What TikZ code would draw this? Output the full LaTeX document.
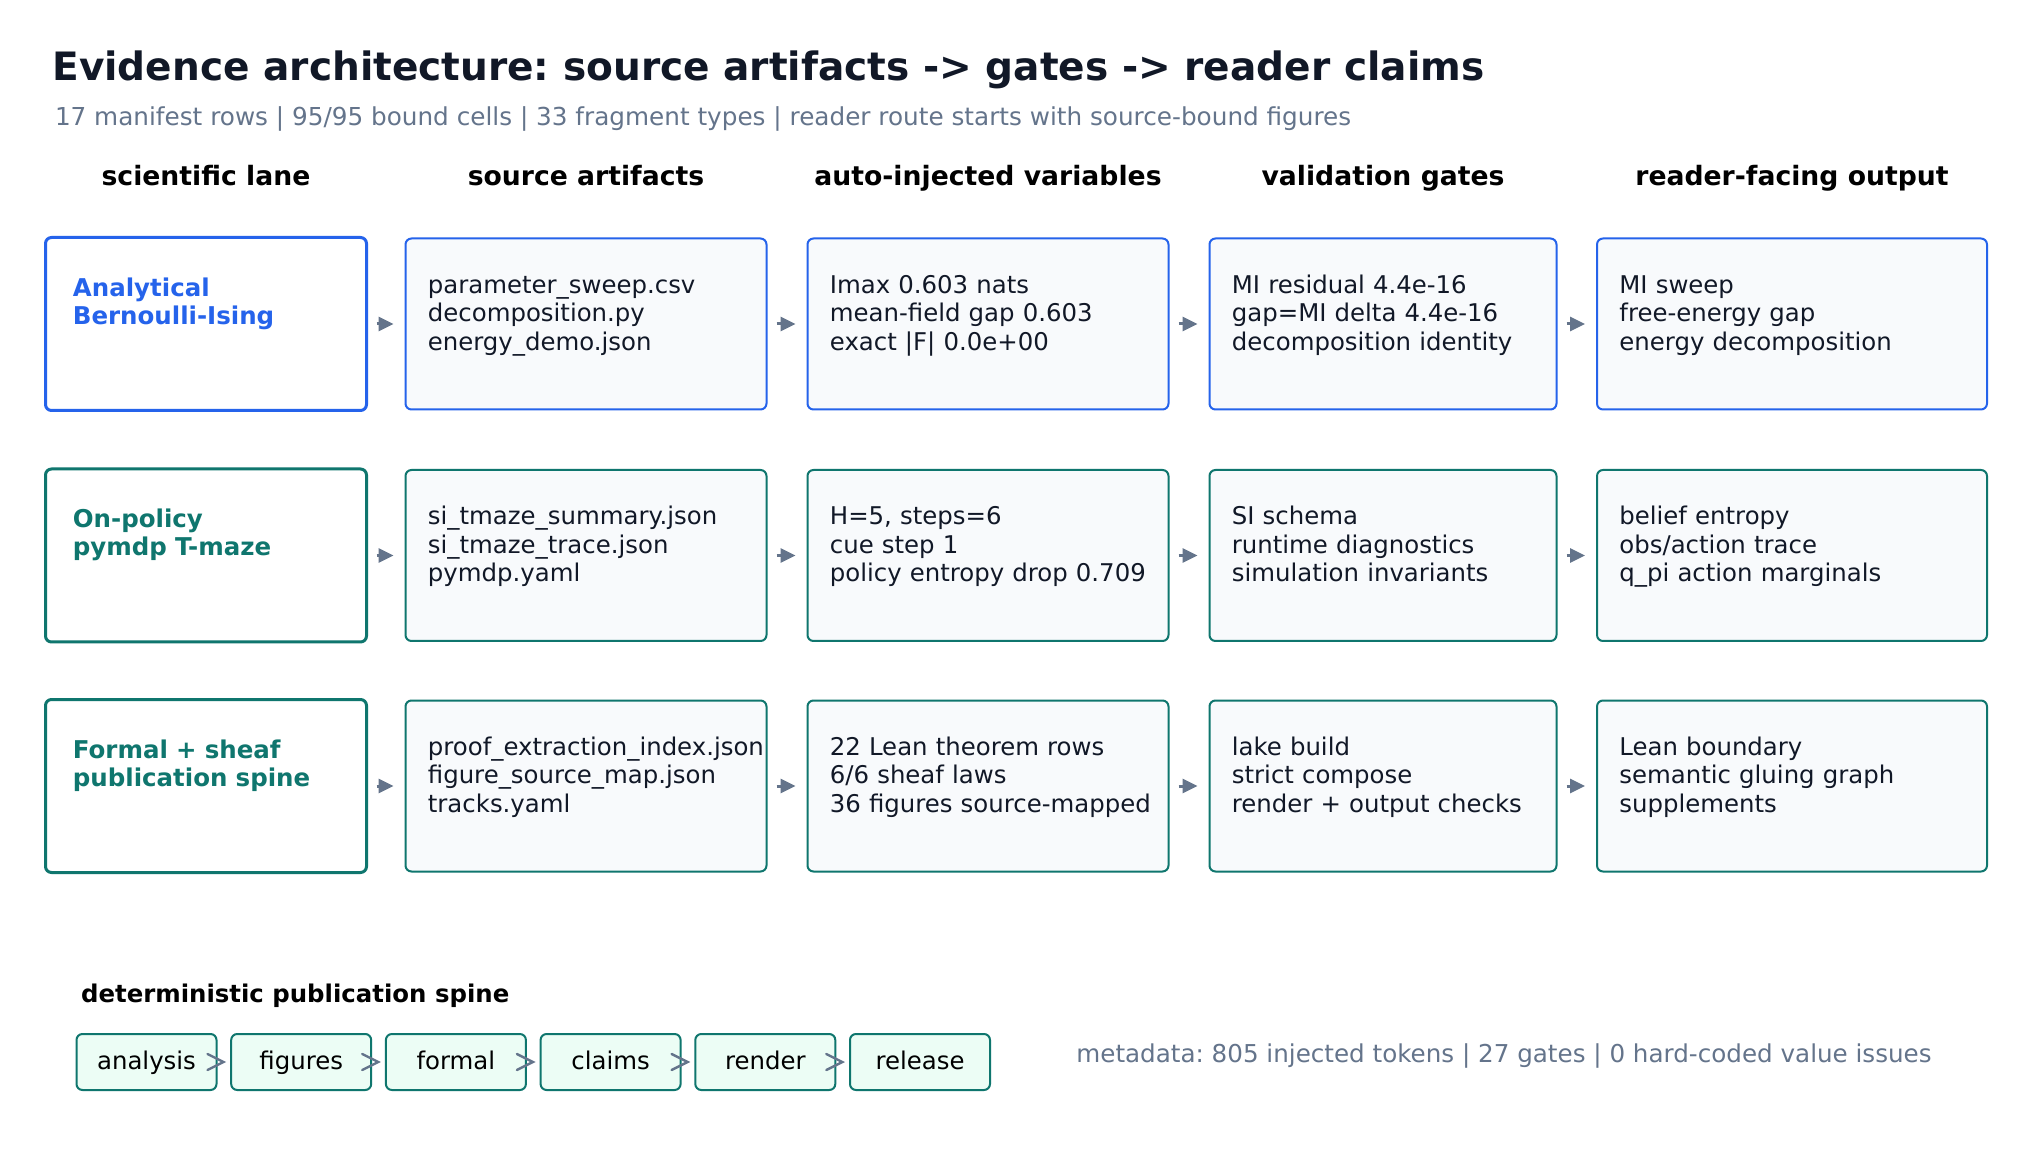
\documentclass[tikz,border=0pt]{standalone}
\usepackage{fontspec}
\setmainfont{DejaVu Sans}
\usetikzlibrary{arrows.meta,calc}
\definecolor{ink}{HTML}{111827}
\definecolor{slate}{HTML}{64748B}
\definecolor{blueL}{HTML}{2563EB}
\definecolor{tealL}{HTML}{0F766E}
\definecolor{boxfill}{HTML}{F8FAFC}
\definecolor{mint}{HTML}{ECFDF5}
\frenchspacing
\begin{document}
\frenchspacing
\begin{tikzpicture}[x=0.5pt,y=-0.5pt,
  lanebox/.style={draw=#1, line width=1.5pt, fill=white, rounded corners=3pt,
    minimum width=160.5pt, minimum height=86.5pt, inner sep=0pt, outer sep=0pt},
  databox/.style={draw=#1, line width=1pt, fill=boxfill, rounded corners=3pt,
    minimum height=85.5pt, inner sep=0pt, outer sep=0pt},
  lanetext/.style={text=#1, font=\bfseries\fontsize{12.24pt}{14pt}\selectfont,
    align=left, text width=150pt, inner sep=0pt, anchor=base west},
  bodytext/.style={text=ink, font=\fontsize{12.2pt}{14.2pt}\selectfont,
    align=left, text width=195pt, inner sep=0pt, anchor=base west},
  header/.style={font=\bfseries\fontsize{13.33pt}{15pt}\selectfont, inner sep=0pt, anchor=base},
  flow/.style={-{Triangle[length=7.5pt,width=7pt]}, line width=1.5pt, draw=slate,
    shorten <=5pt, shorten >=6pt},
  pill/.style={draw=tealL, fill=mint, line width=1pt, rounded corners=3pt,
    minimum width=70pt, minimum height=28pt, inner sep=0pt, outer sep=0pt,
    text height=9pt, text depth=2pt, font=\fontsize{12.2pt}{14pt}\selectfont},
  chev/.style={draw=slate, line width=1.2pt, line cap=round, line join=miter},
]
\useasboundingbox (0,0) rectangle (2040,1165);
\fill[white] (0,0) rectangle (2040,1165);

% title
\node[anchor=base west, inner sep=0pt, text=ink, font=\bfseries\fontsize{19.53pt}{23pt}\selectfont] (title) at (52,81)
  {Evidence architecture: source artifacts -> gates -> reader claims};
\node[anchor=base west, inner sep=0pt, text=slate, font=\fontsize{12.35pt}{14pt}\selectfont] (subtitle) at (54.6,126)
  {17 manifest rows | 95/95 bound cells | 33 fragment types | reader route starts with source-bound figures};

% headers
\node[header] (h1) at (206,185.7) {scientific lane};
\node[header] (h2) at (586,185.7) {source artifacts};
\node[header] (h3) at (988,185.7) {auto-injected variables};
\node[header] (h4) at (1383,185.7) {validation gates};
\node[header] (h5) at (1792,185.7) {reader-facing output};

% row 1
\node[lanebox=blueL] (L1) at (206,324) {};
\node[databox=blueL, minimum width=180.5pt] (S1) at (586,324) {};
\node[databox=blueL, minimum width=180.5pt] (V1) at (988,324) {};
\node[databox=blueL, minimum width=173.5pt] (G1) at (1383,324) {};
\node[databox=blueL, minimum width=195pt] (O1) at (1792,324) {};
% row 2
\node[lanebox=tealL] (L2) at (206,555.5) {};
\node[databox=tealL, minimum width=180.5pt] (S2) at (586,555.5) {};
\node[databox=tealL, minimum width=180.5pt] (V2) at (988,555.5) {};
\node[databox=tealL, minimum width=173.5pt] (G2) at (1383,555.5) {};
\node[databox=tealL, minimum width=195pt] (O2) at (1792,555.5) {};
% row 3
\node[lanebox=tealL] (L3) at (206,786) {};
\node[databox=tealL, minimum width=180.5pt] (S3) at (586,786) {};
\node[databox=tealL, minimum width=180.5pt] (V3) at (988,786) {};
\node[databox=tealL, minimum width=173.5pt] (G3) at (1383,786) {};
\node[databox=tealL, minimum width=195pt] (O3) at (1792,786) {};

% texts row 1
\node[lanetext=blueL] (tL1) at ($(L1.north west)+(27,58.7)$) {Analytical\\Bernoulli-Ising};
\node[bodytext] (tS1) at ($(S1.north west)+(22,54.8)$) {parameter\_sweep.csv\\decomposition.py\\energy\_demo.json};
\node[bodytext] (tV1) at ($(V1.north west)+(22,54.8)$) {Imax 0.603 nats\\mean-field gap 0.603\\exact |F| 0.0e+00};
\node[bodytext] (tG1) at ($(G1.north west)+(22,54.8)$) {MI residual 4.4e-16\\gap=MI delta 4.4e-16\\decomposition identity};
\node[bodytext] (tO1) at ($(O1.north west)+(22,54.8)$) {MI sweep\\free-energy gap\\energy decomposition};
% texts row 2
\node[lanetext=tealL] (tL2) at ($(L2.north west)+(27,58.7)$) {On-policy\\pymdp T-maze};
\node[bodytext] (tS2) at ($(S2.north west)+(22,54.8)$) {si\_tmaze\_summary.json\\si\_tmaze\_trace.json\\pymdp.yaml};
\node[bodytext] (tV2) at ($(V2.north west)+(22,54.8)$) {H=5, steps=6\\cue step 1\\policy entropy drop 0.709};
\node[bodytext] (tG2) at ($(G2.north west)+(22,54.8)$) {SI schema\\runtime diagnostics\\simulation invariants};
\node[bodytext] (tO2) at ($(O2.north west)+(22,54.8)$) {belief entropy\\obs/action trace\\q\_pi action marginals};
% texts row 3
\node[lanetext=tealL] (tL3) at ($(L3.north west)+(27,58.7)$) {Formal + sheaf\\publication spine};
\node[bodytext] (tS3) at ($(S3.north west)+(22,54.8)$) {proof\_extraction\_index.json\\figure\_source\_map.json\\tracks.yaml};
\node[bodytext] (tV3) at ($(V3.north west)+(22,54.8)$) {22 Lean theorem rows\\6/6 sheaf laws\\36 figures source-mapped};
\node[bodytext] (tG3) at ($(G3.north west)+(22,54.8)$) {lake build\\strict compose\\render + output checks};
\node[bodytext] (tO3) at ($(O3.north west)+(22,54.8)$) {Lean boundary\\semantic gluing graph\\supplements};

% arrows
\foreach \r in {1,2,3}{
  \draw[flow] (L\r) -- (S\r);
  \draw[flow] (S\r) -- (V\r);
  \draw[flow] (V\r) -- (G\r);
  \draw[flow] (G\r) -- (O\r);
}

% publication spine
\node[anchor=base west, inner sep=0pt, font=\bfseries\fontsize{12.2pt}{14pt}\selectfont] (spine) at (80.7,1002)
  {deterministic publication spine};
\node[pill] (P1) at (146.5,1062) {analysis};
\node[pill] (P2) at (301.2,1062) {figures};
\node[pill] (P3) at (455.9,1062) {formal};
\node[pill] (P4) at (610.6,1062) {claims};
\node[pill] (P5) at (765.3,1062) {render};
\node[pill] (P6) at (920,1062) {release};
\foreach \i in {1,...,5}{
  \draw[chev] ($(P\i.east)+(-9,-8)$) -- ($(P\i.east)+(7,0)$) -- ($(P\i.east)+(-9,8)$);
}

\node[anchor=base west, inner sep=0pt, text=slate, font=\fontsize{12.3pt}{14pt}\selectfont] (meta) at (1076,1062)
  {metadata: 805 injected tokens | 27 gates | 0 hard-coded value issues};
\end{tikzpicture}
\end{document}
